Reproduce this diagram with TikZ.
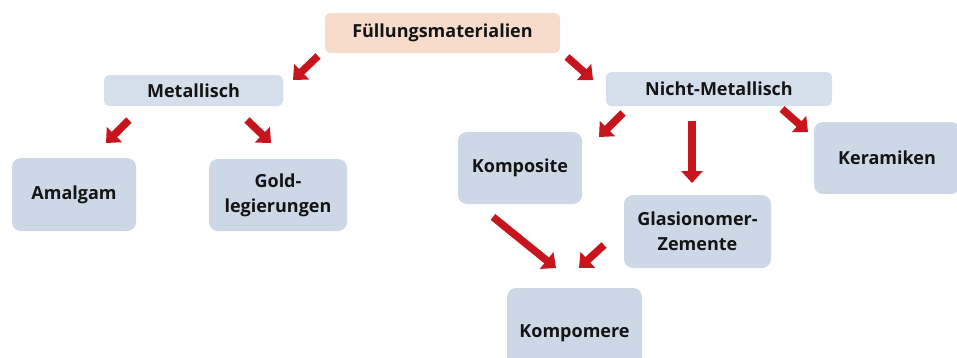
\documentclass[tikz,border=0pt]{standalone}
\usepackage{fontspec}
\setmainfont{Open Sans}
\usetikzlibrary{arrows.meta}
\definecolor{boxblue}{HTML}{D5DFEB}
\definecolor{boxblue2}{HTML}{CCD8E6}
\definecolor{boxpeach}{HTML}{F8DCCB}
\definecolor{arrred}{HTML}{C8141C}
\begin{document}
\begin{tikzpicture}[x=1pt,y=-1pt,
  lab/.style={font=\bfseries\fontsize{18}{25}\selectfont,text=black!92,align=center,inner sep=0pt},
  flatbox/.style={lab,fill=boxblue,rounded corners=5pt},
  bigbox/.style={lab,fill=boxblue2,rounded corners=9pt},
  arr/.style={draw=arrred,line width=7.5pt,-{Triangle[length=12pt,width=21pt]}}]
\useasboundingbox (0,0) rectangle (957,357);
\node[lab,fill=boxpeach,rounded corners=5pt,minimum width=235pt,minimum height=40pt] (root) at (442.5,33) {Füllungsmaterialien};
\node[flatbox,minimum width=179pt,minimum height=31pt] (met) at (193.5,90.5) {Metallisch};
\node[flatbox,minimum width=226pt,minimum height=34pt] (nmet) at (719,89) {Nicht-Metallisch};
\node[bigbox,minimum width=124pt,minimum height=73pt] (amal) at (74,194.5) {Amalgam};
\node[bigbox,minimum width=138pt,minimum height=72pt] (gold) at (278,195) {Gold-\\legierungen};
\node[bigbox,minimum width=124pt,minimum height=72pt] (komp) at (520,168) {Komposite};
\node[bigbox,minimum width=146pt,minimum height=72pt] (ker) at (887,158) {Keramiken};
\node[bigbox,minimum width=147pt,minimum height=73pt] (glas) at (697.5,231.5) {Glasionomer-\\Zemente};
\node[bigbox,minimum width=135pt,minimum height=90pt] (kpm) at (574.5,333) {Kompomere};
% arrow end points
\coordinate (a1s) at (318,56);  \coordinate (a1e) at (293,80);
\coordinate (a2s) at (567,57);  \coordinate (a2e) at (593,80);
\coordinate (a3s) at (129,120); \coordinate (a3e) at (106,143);
\coordinate (a4s) at (247,120); \coordinate (a4e) at (271,143);
\coordinate (a5s) at (623,113); \coordinate (a5e) at (599,137);
\coordinate (a6s) at (692,121); \coordinate (a6e) at (692,183);
\coordinate (a7s) at (782,109); \coordinate (a7e) at (808,132);
\coordinate (a8s) at (493,217); \coordinate (a8e) at (556,268);
\coordinate (a9s) at (604,245); \coordinate (a9e) at (579,268);
\foreach \i in {1,...,9} {\draw[arr] (a\i s) -- (a\i e);}
\end{tikzpicture}
\end{document}
